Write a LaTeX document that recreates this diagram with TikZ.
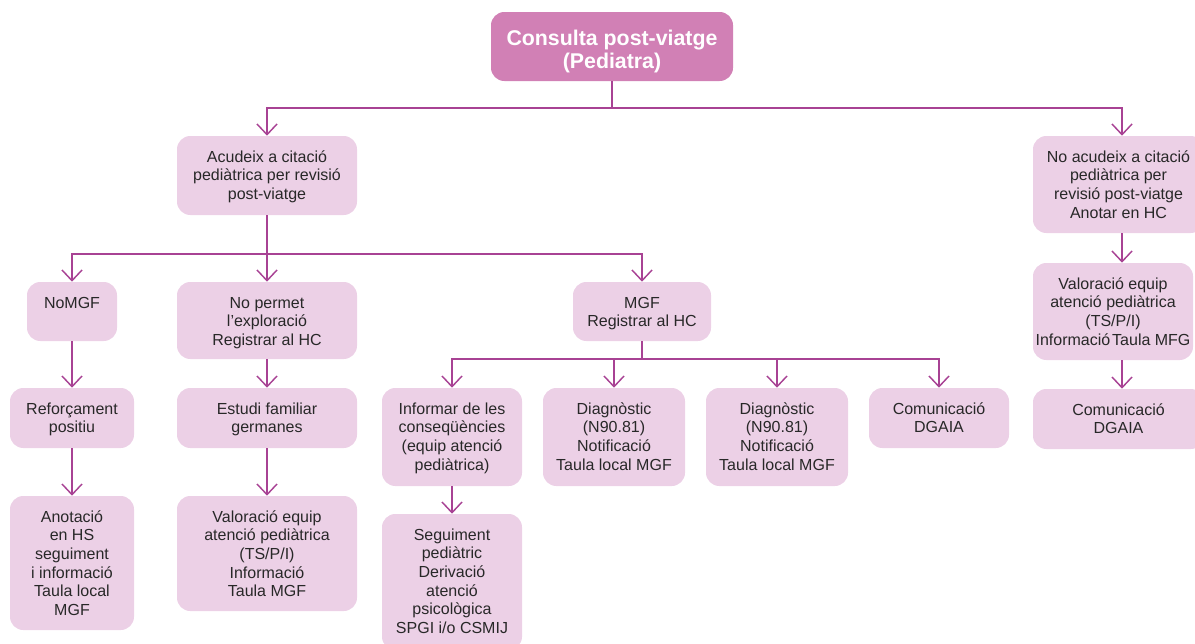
\documentclass[tikz,border=0pt]{standalone}
\usepackage{fontspec}
\setmainfont{Liberation Sans}
\usetikzlibrary{arrows.meta}

\definecolor{headfill}{RGB}{209,128,181}
\definecolor{boxfill}{RGB}{236,208,230}
\definecolor{linkcol}{RGB}{168,66,148}
\definecolor{txtcol}{RGB}{40,40,40}

% Rounded box given by its corners (x1,y1)-(x2,y2) in pixel units;
% the text sits at the top of the box.
\newcommand{\flowbox}[7][stepbox]{%
  \pgfmathsetlengthmacro\boxw{(#5-#3)*0.75}%
  \pgfmathsetlengthmacro\boxh{(#6-#4)*0.75}%
  \node[#1, minimum width=\boxw, minimum height=\boxh] (#2)
    at ({(#3+#5)/2},{(#4+#6)/2})
    {\parbox[t][\boxh][t]{\boxw}{\centering\rule{0pt}{19.5pt}#7}};%
}

\begin{document}
\begin{tikzpicture}[x=0.75pt, y=-0.75pt,
  stepbox/.style={rectangle, rounded corners=10pt, fill=boxfill, inner sep=0pt,
    text=txtcol, font=\fontsize{12}{14}\selectfont},
  headbox/.style={stepbox, fill=headfill, text=white,
    font=\fontsize{16}{17}\selectfont\bfseries},
  link/.style={draw=linkcol, line width=1.1pt},
  arr/.style={link, -{Straight Barb[length=8pt, width=15pt, line width=1.1pt]}}]

\useasboundingbox (0,0) rectangle (1195,643);

% header
\pgfmathsetlengthmacro\boxw{(733-491)*0.75}%
\pgfmathsetlengthmacro\boxh{(81-12)*0.75}%
\node[headbox, minimum width=\boxw, minimum height=\boxh] (head) at (612,46.5)
  {\parbox[t][\boxh][t]{\boxw}{\centering\rule{0pt}{25pt}Consulta post-viatge\\(Pediatra)}};

% first level
\flowbox{acud}{177}{136}{357}{215}{Acudeix a citació\\pediàtrica per revisió\\post-viatge}
\flowbox{noacud}{1033}{136}{1204}{233}{No acudeix a citació\\pediàtrica per\\revisió post-viatge\\Anotar en HC}

% second level
\flowbox{nomgf}{27}{282}{117}{341}{NoMGF}
\flowbox{noperm}{177}{282}{357}{359}{No permet\\l’exploració\\Registrar al HC}
\flowbox{mgf}{573}{282}{711}{341}{MGF\\Registrar al HC}

% left column
\flowbox{refor}{10}{388}{134}{448}{Reforçament\\positiu}
\flowbox{anot}{10}{496}{134}{630}{Anotació\\en HS\\seguiment\\i informació\\Taula local\\MGF}

% second column
\flowbox{estudi}{177}{388}{357}{448}{Estudi familiar\\germanes}
\flowbox{valor}{177}{496}{357}{611}{Valoració equip\\atenció pediàtrica\\(TS/P/I)\\Informació\\Taula MGF}

% MGF branches
\flowbox{inform}{382}{388}{522}{486}{Informar de les\\conseqüències\\(equip atenció\\pediàtrica)}
\flowbox{segui}{382}{514}{522}{650}{Seguiment\\pediàtric\\Derivació\\atenció\\psicològica\\SPGI i/o CSMIJ}
\flowbox{diagA}{543}{388}{685}{486}{Diagnòstic\\(N90.81)\\Notificació\\Taula local MGF}
\flowbox{diagB}{706}{388}{848}{486}{Diagnòstic\\(N90.81)\\Notificació\\Taula local MGF}
\flowbox{comA}{869}{388}{1009}{448}{Comunicació\\DGAIA}

% right column
\flowbox{valorB}{1033}{263}{1193}{360}{Valoració equip\\atenció pediàtrica\\(TS/P/I)\\Informació\hspace{0.12em}Taula MFG}
\flowbox{comB}{1033}{389}{1204}{449}{Comunicació\\DGAIA}

% junction points
\coordinate (j0) at (612,108);
\coordinate (j1) at (267,254);
\coordinate (j2) at (642,359);
\coordinate (rcol) at (1122,0);

% connectors
\draw[link] (head.south) -- (j0);
\draw[arr] (j0) -| (acud.north);
\draw[arr] (j0) -| (noacud.north -| rcol);

\draw[link] (acud.south) -- (j1);
\draw[arr] (j1) -| (nomgf.north);
\draw[arr] (j1) -- (noperm.north);
\draw[arr] (j1) -| (mgf.north);

\draw[arr] (nomgf.south) -- (refor.north);
\draw[arr] (refor.south) -- (anot.north);
\draw[arr] (noperm.south) -- (estudi.north);
\draw[arr] (estudi.south) -- (valor.north);

\draw[link] (mgf.south) -- (j2);
\draw[arr] (j2) -| (inform.north);
\draw[arr] (j2) -| (diagA.north);
\draw[arr] (j2) -| (diagB.north);
\draw[arr] (j2) -| (comA.north);
\draw[arr] (inform.south) -- (segui.north);

\draw[arr] (noacud.south -| rcol) -- (valorB.north -| rcol);
\draw[arr] (valorB.south -| rcol) -- (comB.north -| rcol);
\end{tikzpicture}
\end{document}
